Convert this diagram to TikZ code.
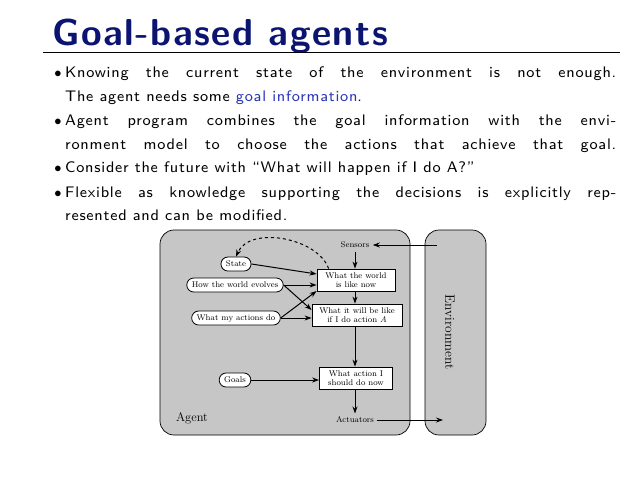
\documentclass[tikz,border=0pt]{standalone}
\usepackage{fontspec}
\usetikzlibrary{arrows.meta}
\newfontfamily\bodyfont{lmsans8-regular.otf}[LetterSpace=5]
\newfontfamily\titlefont{lmsans10-bold.otf}[LetterSpace=4]
\definecolor{navy}{HTML}{0B1470}
\definecolor{linkblue}{HTML}{2A35B8}
\definecolor{agentgray}{HTML}{C6C6C6}
\begin{document}
\begin{tikzpicture}[x=1pt,y=-1pt,
  bul/.style={anchor=base,inner sep=0,font=\fontsize{15}{16}\selectfont},
  sm/.style={font=\fontsize{8.3}{9.2}\selectfont},
  oval/.style={sm,draw,fill=white,rounded corners=7pt,minimum height=14pt,inner xsep=5pt,inner ysep=1pt,line width=0.8pt},
  rbox/.style={sm,draw,fill=white,align=center,inner sep=1pt,minimum height=22pt,line width=0.8pt},
  ar/.style={-{Stealth[length=7pt,width=5pt]},line width=1pt}]
\useasboundingbox (0,0) rectangle (638,493);
\fill[white] (0,0) rectangle (638,493);
\node[anchor=base west,inner sep=0,text=navy,font=\titlefont\fontsize{37.5}{39}\selectfont] (title) at (52,45) {Goal-based agents};
\draw[line width=0.6pt] (43,52) -- (620,52);
\tikzset{tl/.style={anchor=base west,inner sep=0,font=\bodyfont\fontsize{15.3}{16}\selectfont}}
\foreach \y in {77,125,172,197}{\node[bul] at (58,\y) {$\bullet$};}
\node[tl] (l1) at (65,77) {\makebox[551pt][s]{Knowing the current state of the environment is not enough.}};
\node[tl] (l2) at (65,101) {The agent needs some \textcolor{linkblue}{goal information}.};
\node[tl] (l3) at (65,125) {\makebox[551pt][s]{Agent program combines the goal information with the envi-}};
\node[tl] (l4) at (65,149) {\makebox[551pt][s]{ronment model to choose the actions that achieve that goal.}};
\node[tl] (l5) at (65,172) {Consider the future with “What will happen if I do A?”};
\node[tl] (l6) at (65,197) {\makebox[551pt][s]{Flexible as knowledge supporting the decisions is explicitly rep-}};
\node[tl] (l7) at (65,220) {resented and can be modified.};
% boxes
\draw[fill=agentgray,rounded corners=14pt,line width=0.7pt] (160,230) rectangle (410,435);
\draw[fill=agentgray,rounded corners=14pt,line width=0.7pt] (425,230) rectangle (486,435);
\node[rotate=-90,font=\fontsize{13.5}{15}\selectfont] (env) at (450,332) {Environment};
\node[font=\fontsize{12.5}{14}\selectfont] (agent) at (192,418) {Agent};
\node[sm] (sensors) at (355,245) {Sensors};
\node[sm] (actuators) at (355,420) {Actuators};
\node[oval] (state) at (236,264) {State};
\node[oval] (evolves) at (235,285) {How the world evolves};
\node[oval] (actions) at (236,318) {What my actions do};
\node[oval] (goals) at (235,380) {Goals};
\node[rbox,minimum width=78pt] (world) at (356,280) {What the world\\is like now};
\node[rbox,minimum width=90pt] (will) at (357,315) {What it will be like\\if I do action \textit{A}};
\node[rbox,minimum width=73pt] (act) at (356,378) {What action I\\should do now};
\coordinate (envin) at (437,245);
\coordinate (envout) at (443,420);
\draw[ar] (envin) -- (sensors.east);
\draw[ar] (actuators.east) -- (envout);
\draw[ar] (sensors) -- (sensors |- world.north);
\draw[ar] (world.south -| sensors) -- (sensors |- will.north);
\draw[ar] (will.south -| sensors) -- (sensors |- act.north);
\draw[ar] (act.south -| sensors) -- (actuators);
\draw[ar] (state.east) -- (world.west |- 0,274);
\draw[ar] (evolves.east) -- (world.west |- 0,285);
\draw[ar] (evolves.east) -- (will.west |- 0,310);
\draw[ar] (actions.east) -- (world.west |- 0,291);
\draw[ar] (actions.east) -- (will.west |- 0,318);
\draw[ar] (goals.east) -- (act.west |- goals.east);
\draw[-{Stealth[length=7pt,width=5pt]},dashed,line width=1pt] (world.north west) ++(12,0) .. controls (318,238) and (250,225) .. (state.north);
\end{tikzpicture}
\end{document}
